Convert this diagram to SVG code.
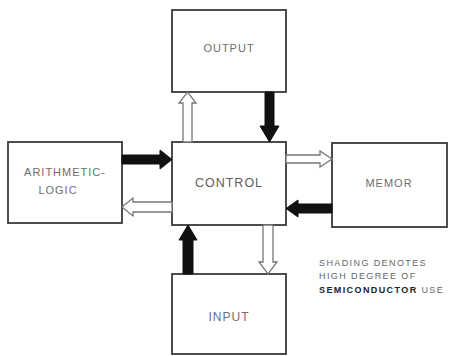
<svg xmlns="http://www.w3.org/2000/svg" width="450" height="356" viewBox="0 0 450 356">
<style>
.box{fill:#fff;stroke:#3a3a3a;stroke-width:1.8}
.lbl{font-family:"Liberation Sans",Arial,sans-serif;font-size:11px;fill:#6e6e6e;text-anchor:middle;letter-spacing:1px}
.solid{fill:#111;stroke:#111;stroke-width:1}
.hollow{fill:#fff;stroke:#777;stroke-width:1.3}
.note{font-family:"Liberation Sans",Arial,sans-serif;font-size:9px;fill:#666;letter-spacing:1.4px}
</style>
<rect width="450" height="356" fill="#fff"/>
<g id="output"><rect class="box" x="172" y="10" width="114" height="82"/><text class="lbl" x="229" y="52">OUTPUT</text></g>
<g id="control"><rect class="box" x="172" y="142" width="114" height="83"/><text class="lbl" x="229" y="187" style="font-size:12.5px;fill:#5e5e5e">CONTROL</text></g>
<g id="arith"><rect class="box" x="8" y="142" width="114" height="81"/><text class="lbl" x="65" y="176">ARITHMETIC-</text><text class="lbl" x="58" y="194">LOGIC</text></g>
<g id="memor"><rect class="box" x="332" y="143" width="115" height="84"/><text class="lbl" x="389" y="187">MEMOR</text></g>
<g id="input"><rect class="box" x="172" y="274" width="114" height="80"/><text class="lbl" x="229" y="321" style="font-size:12px">INPUT</text></g>
<g id="connectors">
<polygon class="hollow" points="183,142 183,103 179,103 187.5,92 196,103 192,103 192,142"/>
<polygon class="solid" points="265,92 274,92 274,126 279,126 269.5,142 260,126 265,126"/>
<polygon class="solid" points="122,155 160,155 160,150 172,159.5 160,169 160,164 122,164"/>
<polygon class="hollow" points="172,202 133,202 133,198 122,207 133,216 133,212 172,212"/>
<polygon class="hollow" points="286,155 320,155 320,151 332,159 320,167 320,163 286,163"/>
<polygon class="solid" points="332,204 298,204 298,200 286,208.5 298,217 298,213 332,213"/>
<polygon class="solid" points="183,274 183,240 179,240 188,225 197,240 193,240 193,274"/>
<polygon class="hollow" points="263,225 273,225 273,262 277,262 268,274 259,262 263,262"/>
</g>
<g id="legend">
<text class="note" x="319" y="266">SHADING DENOTES</text>
<text class="note" x="319" y="279">HIGH DEGREE OF</text>
<text class="note" x="319" y="293"><tspan style="fill:#222;font-weight:bold">SEMICONDUCTOR</tspan> USE</text>
</g>
</svg>
